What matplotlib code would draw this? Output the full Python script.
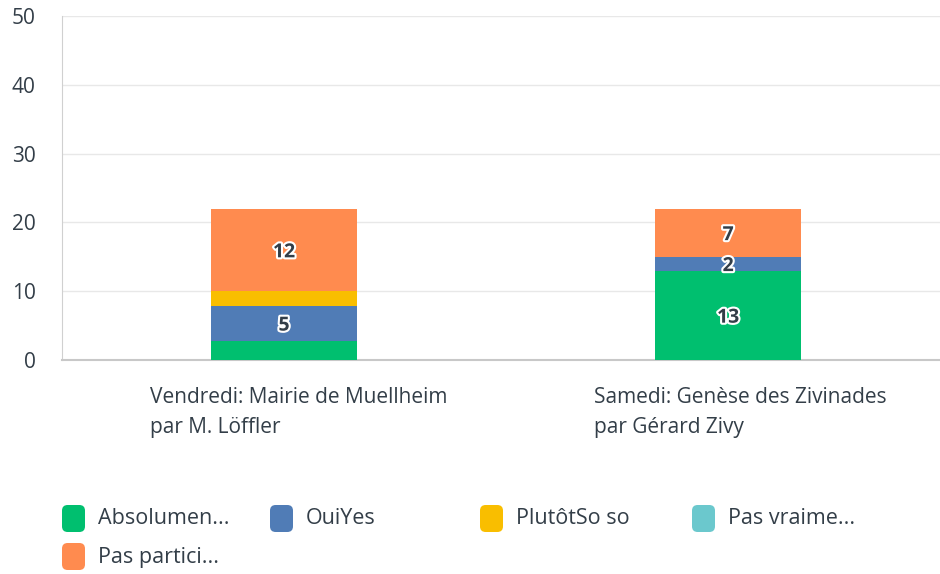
import matplotlib
matplotlib.use("Agg")
import matplotlib.pyplot as plt
import matplotlib.patheffects as pe
from matplotlib.patches import FancyBboxPatch
from matplotlib.transforms import blended_transform_factory

categories = ["Vendredi: Mairie de Muellheim\npar M. Löffler",
              "Samedi: Genèse des Zivinades\npar Gérard Zivy"]
series_names = ["Absolumen...", "OuiYes", "PlutôtSo so", "Pas vraime...", "Pas partici..."]
series_values = [
    [2.8, 13],   # Absolument
    [5.1, 2],    # OuiYes
    [2.1, 0],    # Plutôt
    [0, 0],      # Pas vraiment
    [12, 7],     # Pas participé
]
series_labels = [
    ["", "13"],
    ["5", "2"],
    ["", ""],
    ["", ""],
    ["12", "7"],
]
colors = ["#00BF6F", "#507CB6", "#F9BE00", "#6BC8CD", "#FF8B4F"]
yticks = [0, 10, 20, 30, 40, 50]

text_color = "#333E48"
plt.rcParams['font.family'] = ['Open Sans', 'DejaVu Sans']

fig = plt.figure(figsize=(9.4, 5.74), dpi=100)
ax = fig.add_axes([62/940, 1-360/574, 878/940, 344/574])

x = list(range(len(categories)))
bottom = [0]*len(categories)
for vals, labs, col in zip(series_values, series_labels, colors):
    bars = ax.bar(x, vals, width=0.33, bottom=bottom, color=col, zorder=3)
    for xi, v, b, lab in zip(x, vals, bottom, labs):
        if lab:
            t = ax.text(xi, b + v/2 - 0.35, lab, ha="center", va="center", fontsize=14,
                        fontweight="bold", color=text_color, zorder=4)
            t.set_path_effects([pe.withStroke(linewidth=3, foreground="white")])
    bottom = [b + v for b, v in zip(bottom, vals)]

ax.set_xlim(-0.5, 1.477)
ax.set_ylim(0, 50)
ax.set_yticks(yticks)
ax.set_yticklabels([str(t) for t in yticks], fontsize=15, color=text_color)
ax.tick_params(axis="y", length=0, pad=19)
ax.set_xticks([])
ax.grid(axis="y", color="#E8E8E8", linewidth=1, zorder=0)
for s in ["top", "right"]:
    ax.spines[s].set_visible(False)
ax.spines["left"].set_color("#D0D0D0")
ax.spines["bottom"].set_color("#C8C8C8")
ax.spines["bottom"].set_linewidth(1.5)

trans = blended_transform_factory(ax.transData, fig.transFigure)
for xi, cat in zip(x, categories):
    ax.text(xi - 0.302, 1-387/574, cat, transform=trans, ha="left", va="top",
            fontsize=15, color=text_color, linespacing=1.58)

# legend
col_x = [62, 270, 480, 692]
row_y = [519, 557]
for i, (name, col) in enumerate(zip(series_names, colors)):
    cx = col_x[i % 4]
    cy = row_y[i // 4]
    box = FancyBboxPatch(((cx)/940, 1-(cy+13)/574), 23/940, 27/574,
                         boxstyle="round,pad=0,rounding_size=0.006",
                         transform=fig.transFigure, facecolor=col, edgecolor="none",
                         mutation_aspect=940/574)
    fig.add_artist(box)
    fig.text((cx+36)/940, 1-cy/574, name, ha="left", va="center", fontsize=15.5,
             color=text_color)

fig.savefig("out.png", dpi=100)
